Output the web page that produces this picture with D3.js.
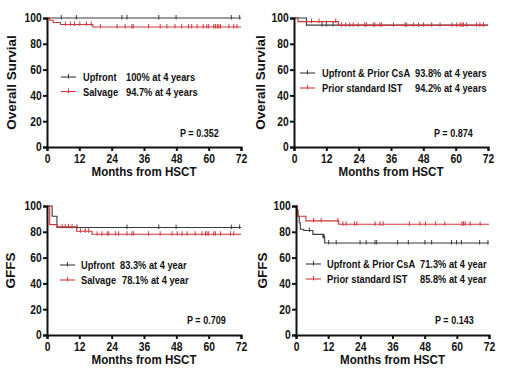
<!DOCTYPE html>
<html><head><meta charset="utf-8">
<script src="https://cdn.jsdelivr.net/npm/d3@7/dist/d3.min.js"></script>
<style>body{margin:0;background:#fff}svg{display:block}text{font-family:"Liberation Sans",Arial,sans-serif;font-weight:bold}</style>
</head><body><svg id="c" width="520" height="375"></svg>
<script>
const xTicks = [0, 12, 24, 36, 48, 60, 72];
const yTicks = [0, 20, 40, 60, 80, 100];

// Panel A: OS, Upfront vs Salvage  (steps: [month, survival %])
const osUpfrontSteps = [[0, 100]];
const osUpfrontCensor = [5.3, 10.9, 27.8, 29.7, 41.5, 47.9, 68.4, 71.5];
const osSalvageSteps = [[0, 100], [1, 98.3], [2.3, 96.5], [5, 95], [17, 93]];
const osSalvageCensor = [6.8, 8.7, 10.2, 12.2, 14.6, 16.4, 19.8, 26, 29, 31.5, 32, 37.7, 42, 44.5, 47.5, 50, 52.5, 53.7, 55.7, 58, 59.3, 60, 61.9, 62.5, 63.2, 63.8, 64.4, 67.5, 69.3, 70.5];
const osALabels = ["Upfront", "Salvage"];
const osAValues = ["100%  at 4 years", "94.7% at 4 years"];

// Panel B: OS, Upfront & Prior CsA vs Prior standard IST
const osCsASteps = [[0, 100], [4.6, 94.5]];
const osCsACensor = [10.4, 12, 14.5];
const osISTSteps = [[0, 100], [1.5, 97.2], [16.5, 94.3]];
const osISTCensor = [6.5, 9.3, 15.5, 17.6, 19.2, 20.7, 22, 23.8, 26.3, 26.9, 29.4, 30, 31.9, 32.5, 36.9, 41.2, 41.8, 44.3, 46.2, 48, 51.1, 54.2, 58.6, 60.4, 61.7, 62.3, 62.9, 64.1, 67.8, 69, 70.3];
const osBLabels = ["Upfront & Prior CsA", "Prior standard IST"];
const osBValues = ["93.8% at 4 years", "94.2% at 4 years"];

// Panel C: GFFS, Upfront vs Salvage
const gfUpfrontSteps = [[0, 100], [1.9, 92], [3.7, 83.3]];
const gfUpfrontCensor = [11.1, 29.7, 41.5, 47.9, 68.4, 71.5];
const gfSalvageSteps = [[0, 100], [1, 85.6], [3.7, 83.8], [11, 80.4], [16.7, 78.1]];
const gfSalvageCensor = [5.6, 6.8, 8.0, 9.3, 12.4, 14.2, 15.5, 18.6, 20.4, 22.3, 22.9, 25.4, 26.6, 29.7, 31.5, 32.2, 37.7, 42, 46.4, 48.3, 50.1, 52, 55, 57.5, 58.8, 59.4, 60, 61.9, 62.5, 64.4, 68.1, 69.3];
const gfCLabels = ["Upfront", "Salvage"];
const gfCValues = ["83.3% at 4 year", "78.1% at 4 year"];

// Panel D: GFFS, Upfront & Prior CsA vs Prior standard IST
const gfCsASteps = [[0, 100], [0.4, 97], [0.7, 92], [1.2, 87], [1.6, 82], [2.9, 81], [6.3, 78], [10, 76], [10.7, 71.3]];
const gfCsACensor = [5, 10.3, 10.5, 12.2, 15, 23.9, 26.2, 29.5, 30.1, 37.9, 41.9, 48.1, 50.6, 58, 59.9, 61.7, 68.5, 71.6];
const gfISTSteps = [[0, 100], [0.4, 96], [0.7, 92], [3.7, 88.5], [15.9, 85.8]];
const gfISTCensor = [6.6, 9.4, 15.6, 17.5, 18.7, 21.8, 22.7, 29.5, 31.3, 32.5, 42.3, 46.2, 48.3, 52.1, 55.5, 61.9, 62.5, 63.1, 65, 68.7];
const gfDLabels = ["Upfront & Prior CsA", "Prior standard IST"];
const gfDValues = ["71.3% at 4 year", "85.8% at 4 year"];

const BLACK = "#3a3a3a", RED = "#d2353b";
const SX = 0.86;
const svg = d3.select("#c");

function txt(g, x, y, s, size, anchor) {
  return g.append("text").attr("transform", `translate(${x},${y}) scale(${SX},1)`)
    .attr("text-anchor", anchor || "start").style("font-size", size + "px").attr("fill", "#111").text(s);
}

function panel(o) {
  const g = svg.append("g");
  const x = d3.scaleLinear().domain([0, 72]).range([o.x0, o.x1]);
  const y = d3.scaleLinear().domain([0, 100]).range([o.y0, o.y1]);

  const series = [
    {steps: o.s1, censor: o.c1, color: BLACK},
    {steps: o.s2, censor: o.c2, color: RED}
  ];
  series.forEach(s => {
    const pts = s.steps.concat([[72, s.steps[s.steps.length - 1][1]]]);
    const line = d3.line().x(d => x(d[0])).y(d => y(d[1])).curve(d3.curveStepAfter);
    g.append("path").attr("d", line(pts)).attr("fill", "none")
      .attr("stroke", s.color).attr("stroke-width", 1.1);
    const valAt = t => { let v = 100; s.steps.forEach(p => { if (p[0] <= t) v = p[1]; }); return v; };
    g.selectAll(null).data(s.censor).enter().append("line")
      .attr("x1", d => x(d)).attr("x2", d => x(d))
      .attr("y1", d => y(valAt(d)) - 3).attr("y2", d => y(valAt(d)) + 1.5)
      .attr("stroke", s.color).attr("stroke-width", 1);
  });

  const xa = g.append("g").attr("transform", `translate(0,${o.y0})`)
    .call(d3.axisBottom(x).tickValues(xTicks).tickSize(4).tickPadding(3));
  const ya = g.append("g").attr("transform", `translate(${o.x0},0)`)
    .call(d3.axisLeft(y).tickValues(yTicks).tickSize(4).tickPadding(2));
  [xa, ya].forEach(a => {
    a.select(".domain").attr("stroke", "#111").attr("stroke-width", 2);
    a.selectAll(".tick line").attr("stroke", "#111").attr("stroke-width", 2);
    a.selectAll(".tick text").attr("fill", "#111").style("font-size", "12px")
      .attr("transform", `scale(${SX},1)`)
      .style("font-family", "'Liberation Sans',Arial,sans-serif").style("font-weight", "bold");
  });

  txt(g, (o.x0 + o.x1) / 2, o.y0 + 29, "Months from HSCT", 13.5, "middle");
  g.append("text").attr("transform", `translate(${o.x0 - o.yt},${(o.y0 + o.y1) / 2}) rotate(-90)`)
    .attr("text-anchor", "middle").style("font-size", "13.5px").attr("fill", "#111").text(o.ytitle);

  [0, 1].forEach(i => {
    const ly = o.ly + i * o.lgap;
    const col = i === 0 ? BLACK : RED;
    g.append("line").attr("x1", o.lx).attr("x2", o.lx + 15).attr("y1", ly).attr("y2", ly)
      .attr("stroke", col).attr("stroke-width", 1.1);
    g.append("line").attr("x1", o.lx + 7.5).attr("x2", o.lx + 7.5).attr("y1", ly - 3).attr("y2", ly + 1.5)
      .attr("stroke", col).attr("stroke-width", 1);
    txt(g, o.tx, ly + 4, o.labels[i], 10.8);
    txt(g, o.vx[i], ly + 4, o.values[i], 10.8);
  });
  txt(g, o.px, o.py, o.p, 10.5);
}

panel({x0: 47, x1: 241, y0: 147, y1: 18, s1: osUpfrontSteps, c1: osUpfrontCensor, s2: osSalvageSteps, c2: osSalvageCensor,
  ytitle: "Overall Survial", yt: 31, labels: osALabels, values: osAValues, lx: 61, ly: 77, lgap: 14.5, tx: 83, vx: [126, 126],
  p: "P = 0.352", px: 180, py: 137});
panel({x0: 294, x1: 488, y0: 147, y1: 18, s1: osCsASteps, c1: osCsACensor, s2: osISTSteps, c2: osISTCensor,
  ytitle: "Overall Survial", yt: 29, labels: osBLabels, values: osBValues, lx: 300, ly: 73, lgap: 15, tx: 322, vx: [415, 415],
  p: "P = 0.874", px: 434, py: 137});
panel({x0: 47, x1: 241, y0: 335, y1: 206, s1: gfUpfrontSteps, c1: gfUpfrontCensor, s2: gfSalvageSteps, c2: gfSalvageCensor,
  ytitle: "GFFS", yt: 32, labels: gfCLabels, values: gfCValues, lx: 60, ly: 265, lgap: 15, tx: 81, vx: [120, 122],
  p: "P = 0.709", px: 187, py: 324});
panel({x0: 296, x1: 489, y0: 335, y1: 206, s1: gfCsASteps, c1: gfCsACensor, s2: gfISTSteps, c2: gfISTCensor,
  ytitle: "GFFS", yt: 29, labels: gfDLabels, values: gfDValues, lx: 306, ly: 264, lgap: 15, tx: 327, vx: [420, 420],
  p: "P = 0.143", px: 435, py: 324});
</script></body></html>
